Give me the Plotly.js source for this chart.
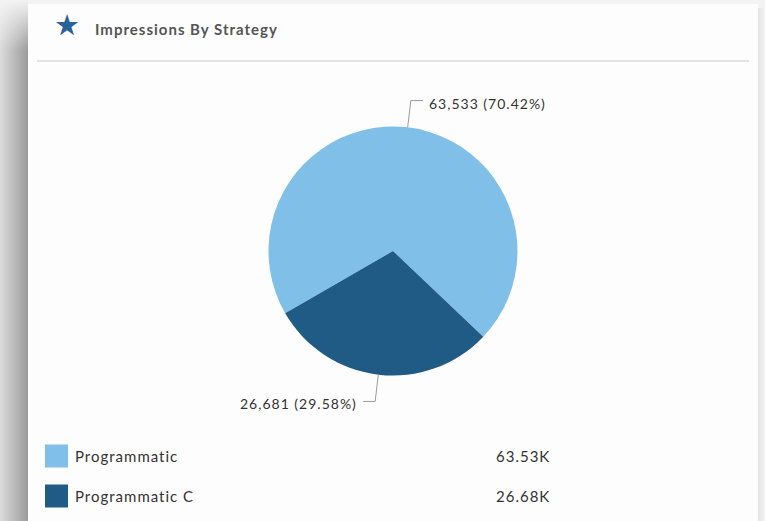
<!DOCTYPE html>
<html>
<head>
<meta charset="utf-8">
<script src="https://cdn.plot.ly/plotly-3.0.1.min.js"></script>
<style>
  html, body { margin:0; padding:0; width:765px; height:521px; overflow:hidden; background:#f3f3f3; font-family: Lato, sans-serif; }
  svg text { letter-spacing: 1px; }
  #shadowL { position:absolute; left:0; top:0; width:28px; height:521px;
    background: linear-gradient(to right, #dcdcdc, #9b9b9b); }
  #shadowFade { position:absolute; left:0; top:0; width:28px; height:50px;
    background: linear-gradient(to bottom, #f3f3f3, rgba(243,243,243,0)); }
  #shadowR { position:absolute; left:758px; top:8px; width:7px; height:513px;
    background: linear-gradient(to right, #e4e4e4, #f3f3f3); }
  #card { position:absolute; left:28px; top:4px; width:730px; height:517px; background:#fdfdfd; }
  #chart { width:730px; height:517px; }
</style>
</head>
<body>
<div id="shadowL"></div><div id="shadowFade"></div><div id="shadowR"></div>
<div id="card"><div id="chart"></div></div>
<script>
const chartTitle = "Impressions By Strategy";
const categories = ["Programmatic", "Programmatic C"];
const impressions = [63533, 26681];
const legendValues = ["63.53K", "26.68K"];
const sliceColors = ["#80bfe8", "#1f5b85"];

const W = 730, H = 517;
const px = x => x / W;
const py = y => 1 - y / H;

const total = impressions.reduce((a, b) => a + b, 0);
const labelText = impressions.map(v =>
  v.toLocaleString('en-US') + " (" + (v / total * 100).toFixed(2) + "%)");

const cx = 365, cy = 247, r = 124.5;
const rotation = -120; // degrees clockwise from 12 o'clock where first slice starts

const trace = {
  type: 'pie',
  labels: categories,
  values: impressions,
  marker: { colors: sliceColors, line: { width: 0 } },
  sort: false,
  direction: 'clockwise',
  rotation: rotation,
  textinfo: 'none',
  hoverinfo: 'label+value+percent',
  domain: { x: [px(cx - r), px(cx + r)], y: [py(cy + r), py(cy - r)] },
  showlegend: false
};

const shapes = [
  { type: 'line', xref: 'paper', yref: 'paper', x0: px(9), x1: px(721), y0: py(57), y1: py(57),
    line: { color: '#e3e3e3', width: 2 } }
];
const annotations = [
  { xref: 'paper', yref: 'paper', x: px(39), y: py(21), text: '★', showarrow: false,
    font: { family: 'DejaVu Sans', size: 29, color: '#2a6399' }, xanchor: 'center', yanchor: 'middle' },
  { xref: 'paper', yref: 'paper', x: px(65), y: py(25), text: '<b>' + chartTitle + '</b>', showarrow: false,
    font: { family: 'Lato, sans-serif', size: 15, color: '#555555' }, xanchor: 'left', yanchor: 'middle' }
];

// outside labels with elbow connectors, placed at each slice's mid angle
let cum = 0;
impressions.forEach((v, i) => {
  const midFrac = (cum + v / 2) / total;
  cum += v;
  const a = (rotation + midFrac * 360) * Math.PI / 180; // clockwise from 12 o'clock
  const dx = Math.sin(a), dy = -Math.cos(a);
  const ex = cx + r * dx, ey = cy + r * dy;
  const kx = cx + (r + 27) * dx, ky = cy + (r + 27) * dy;
  const side = dx >= 0 ? 1 : -1;
  const hx = kx + side * 12;
  shapes.push({ type: 'path', xref: 'paper', yref: 'paper',
    path: `M ${px(ex)} ${py(ey)} L ${px(kx)} ${py(ky)} L ${px(hx)} ${py(ky)}`,
    line: { color: '#9a9a9a', width: 1 } });
  annotations.push({ xref: 'paper', yref: 'paper', x: px(hx + side * 4), y: py(ky + 2.5),
    text: labelText[i], showarrow: false,
    font: { family: 'Lato, sans-serif', size: 14, color: '#333333' },
    xanchor: side > 0 ? 'left' : 'right', yanchor: 'middle' });
});

categories.forEach((c, i) => {
  const yc = 452 + i * 40;
  shapes.push({ type: 'rect', xref: 'paper', yref: 'paper',
    x0: px(17), x1: px(40), y0: py(yc - 11.5), y1: py(yc + 11.5),
    fillcolor: sliceColors[i], line: { width: 0 } });
  annotations.push({ xref: 'paper', yref: 'paper', x: px(45), y: py(yc), text: c, showarrow: false,
    font: { family: 'Lato, sans-serif', size: 15, color: '#333333' }, xanchor: 'left', yanchor: 'middle' });
  annotations.push({ xref: 'paper', yref: 'paper', x: px(524), y: py(yc), text: legendValues[i], showarrow: false,
    font: { family: 'Lato, sans-serif', size: 15, color: '#333333' }, xanchor: 'right', yanchor: 'middle' });
});

const layout = {
  width: W, height: H,
  margin: { l: 0, r: 0, t: 0, b: 0 },
  paper_bgcolor: '#fdfdfd',
  plot_bgcolor: '#fdfdfd',
  showlegend: false,
  shapes: shapes,
  annotations: annotations
};

Plotly.newPlot('chart', [trace], layout, { displayModeBar: false, staticPlot: true });
</script>
</body>
</html>
